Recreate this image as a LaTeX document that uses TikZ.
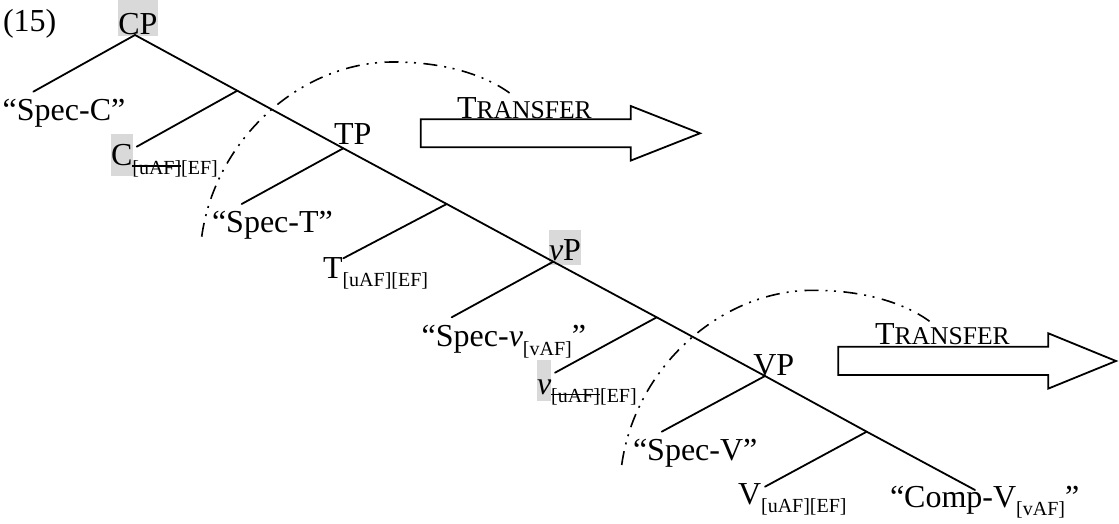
\documentclass[tikz,border=0pt]{standalone}
\usepackage{fontspec}
\setmainfont{Liberation Serif}
\newcommand\mainsz{\fontsize{32}{38}\selectfont}
\newcommand\subsz{\fontsize{20}{24}\selectfont}
\newcommand\scsz{\fontsize{25.6}{30}\selectfont}
\newcommand\lsub[1]{\raisebox{-8.5pt}{\subsz #1}}
\newcommand\struck[1]{\sbox0{#1}\rlap{\rule[7.5pt]{\wd0}{1.5pt}}\usebox0}
\begin{document}
\begin{tikzpicture}[x=1pt,y=-1pt,
  lbl/.style={anchor=base west, inner sep=0pt, outer sep=0pt, font=\mainsz},
  branch/.style={line width=1.8pt, line cap=round},
  hl/.style={fill=black!15},
  spellout/.style={line width=1.6pt, dash pattern=on 14pt off 7pt on 2pt off 6.5pt on 2pt off 7.5pt},
  bigarrow/.style={line width=1.8pt, line join=miter}]

\useasboundingbox (0,0) rectangle (1119,524);

% grey highlights behind the checked heads
\fill[hl] (118.3,0) rectangle (157.7,35.7);
\fill[hl] (111,134.3) rectangle (132.7,176);
\fill[hl] (549,230) rectangle (581,265);
\fill[hl] (537,360) rectangle (551,400.7);

% labels
\node[lbl] (ex)    at (3,32)       {(15)};
\node[lbl] (cp)    at (118.3,34.5) {CP};
\node[lbl] (specC) at (2.7,120.5)  {“Spec-C”};
\node[lbl] (c)     at (111,165.7)  {C\lsub{\struck{[uAF]}[EF]}};
\node[lbl] (tp)    at (334,145)    {TP};
\node[lbl] (specT) at (212,232.5)  {“Spec-T”};
\node[lbl] (t)     at (323,278.3)  {T\lsub{[uAF][EF]}};
\node[lbl] (vp)    at (549,260)    {\textit{v}P};
\node[lbl] (specv) at (421.7,346.7){“Spec-\textit{v}\lsub{[vAF]}”};
\node[lbl] (v)     at (537,394)    {\textit{v}\lsub{\struck{[uAF]}[EF]}};
\node[lbl] (VP)    at (753.3,375)  {VP};
\node[lbl] (specV) at (633,460)    {“Spec-V”};
\node[lbl] (V)     at (738,504)    {V\lsub{[uAF][EF]}};
\node[lbl] (compV) at (890,507)    {“Comp-V\lsub{[vAF]}”};

% tree vertices on the spine
\coordinate (nCP)  at (135,35);
\coordinate (nC1)  at (237.3,90.7);
\coordinate (nTP)  at (343.3,148.3);
\coordinate (nT1)  at (446.7,204);
\coordinate (nvP)  at (553.3,261.7);
\coordinate (nv1)  at (656.7,317.3);
\coordinate (nVP)  at (765,376);
\coordinate (nV1)  at (866.7,431.7);
\coordinate (nEnd) at (975,490);

% ends of the left branches
\coordinate (lSpecC) at (33.3,91.7);
\coordinate (lC)     at (136.7,146.7);
\coordinate (lSpecT) at (241.7,204);
\coordinate (lT)     at (343.3,258.3);
\coordinate (lSpecv) at (451.7,317.3);
\coordinate (lv)     at (555,372.7);
\coordinate (lSpecV) at (661.7,431.7);
\coordinate (lV)     at (765,486.7);

% spine
\draw[branch] (nCP) -- (nC1) -- (nTP) -- (nT1) -- (nvP) -- (nv1) -- (nVP) -- (nV1) -- (nEnd);
% left daughters
\draw[branch] (nCP) -- (lSpecC);
\draw[branch] (nC1) -- (lC);
\draw[branch] (nTP) -- (lSpecT);
\draw[branch] (nT1) -- (lT);
\draw[branch] (nvP) -- (lSpecv);
\draw[branch] (nv1) -- (lv);
\draw[branch] (nVP) -- (lSpecV);
\draw[branch] (nV1) -- (lV);

% transfer domains
\draw[spellout] (201.7,236.7) .. controls (215,140) and (300,62) .. (393,62)
                .. controls (445,62) and (485,75) .. (510,93.3);
\begin{scope}[shift={(420,228.3)}]
\draw[spellout] (201.7,236.7) .. controls (215,140) and (300,62) .. (393,62)
                .. controls (445,62) and (485,75) .. (510,93.3);
\end{scope}

% TRANSFER block arrows
\draw[bigarrow] (420.7,119.3) -- (630.7,119.3) -- (630.7,106) -- (700,133.3)
  -- (630.7,160.6) -- (630.7,147.3) -- (420.7,147.3) -- cycle;
\node[lbl] (tr1) at (457,118.3) {T{\scsz RANSFER}};

\draw[bigarrow] (838.3,346.7) -- (1048.3,346.7) -- (1048.3,333.3) -- (1116,361)
  -- (1048.3,388.6) -- (1048.3,375) -- (838.3,375) -- cycle;
\node[lbl] (tr2) at (875,344) {T{\scsz RANSFER}};
\end{tikzpicture}
\end{document}
